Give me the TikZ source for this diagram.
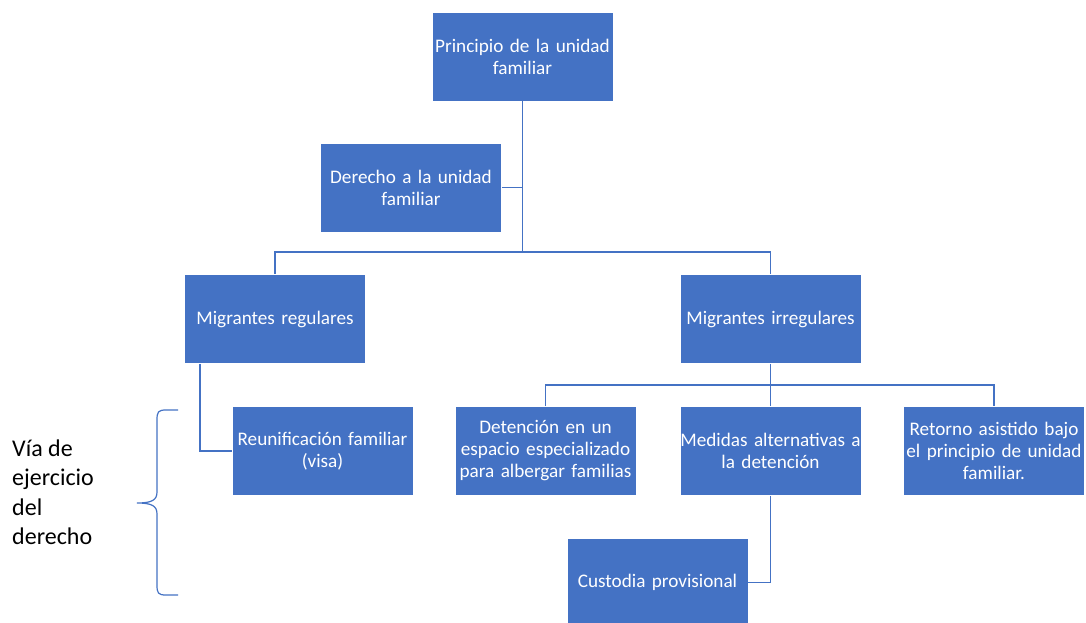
\documentclass[tikz,border=0pt]{standalone}
\usepackage{fontspec}
\setmainfont{Carlito}
\definecolor{boxblue}{HTML}{4472C4}
\definecolor{lineblue}{HTML}{4472C4}
\begin{document}
\begin{tikzpicture}[x=1pt,y=-1pt,
  box/.style={draw=white, line width=0.6pt, fill=boxblue, text=white,
    minimum width=181pt, minimum height=89pt, inner sep=0pt,
    text width=181pt, align=center, font=\fontsize{19.2}{22}\selectfont},
  conn/.style={draw=lineblue, line width=1.4pt},
  bracestyle/.style={draw=lineblue, line width=1.2pt}]
\useasboundingbox (0,0) rectangle (1086,623);
\fill[white] (0,0) rectangle (1086,623);

\node[box] (top) at (522.5,56.5) {Principio de la unidad\\familiar};
\node[box] (der) at (411,187.5) {Derecho a la unidad\\familiar};
\node[box] (reg) at (275,319) {Migrantes regulares};
\node[box] (irr) at (770.5,319) {Migrantes irregulares};
\node[box] (reu) at (322.5,451) {Reunificación familiar\\(visa)\\[6pt]};
\node[box] (det) at (545.5,451) {Detención en un\\espacio especializado\\para albergar familias};
\node[box] (med) at (770.5,451) {Medidas alternativas a\\la detención\\[6pt]};
\node[box] (ret) at (994,451) {Retorno asistido bajo\\el principio de unidad\\familiar.};
\node[box] (cus) at (657.5,582.5) {Custodia provisional};

\coordinate (j1) at (522.5,252);
\coordinate (j2) at (770.5,385);

\draw[conn] (top.south) -- (j1);
\draw[conn] (der.east) -- (der.east -| top.south);
\draw[conn] (reg.north) |- (j1) -| (irr.north);
\draw[conn] ([xshift=-75pt]reg.south) |- (reu.west);
\draw[conn] (irr.south) -- (j2);
\draw[conn] (det.north) |- (j2) -| (ret.north);
\draw[conn] (j2) -- (med.north);
\draw[conn] (med.south) |- (cus.east);

\draw[bracestyle] (178,410) -- (166,410) .. controls (158,410) and (157,412) .. (157,420)
  -- (157,492) .. controls (157,500) and (152,503) .. (137,503)
  .. controls (152,503) and (157,506) .. (157,514)
  -- (157,585) .. controls (157,593) and (158,595) .. (166,595) -- (178,595);

\node[anchor=north west, inner sep=0pt, align=left, text=black,
  font=\fontsize{24}{29.5}\selectfont] (via) at (12,439.5) {Vía de\\ejercicio\\del\\derecho};
\end{tikzpicture}
\end{document}
